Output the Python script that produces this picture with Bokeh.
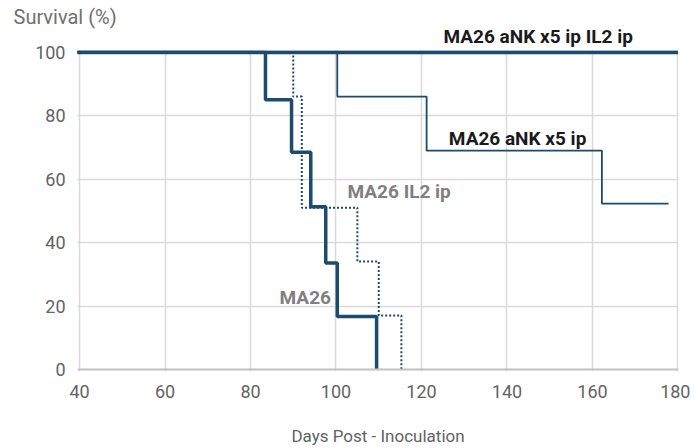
from bokeh.plotting import figure
from bokeh.models import Range1d, Label, Span, FixedTicker, Title
from bokeh.embed import file_html
from bokeh.resources import INLINE

# ---- data ----
days_il2_ank = [0, 180]
surv_il2_ank = [100, 100]

days_ank = [0, 100.3, 121.2, 162.2, 177.8]
surv_ank = [100, 86, 69, 52.3, 52.3]

days_il2 = [0, 90, 92, 105, 110, 115.3]
surv_il2 = [100, 86, 51, 34, 17, 0]

days_ma26 = [0, 83.5, 89.6, 94.1, 97.6, 100.3, 109.5]
surv_ma26 = [100, 85, 68.5, 51.3, 33.6, 16.7, 0]

x_ticks = [40, 60, 80, 100, 120, 140, 160, 180]
y_ticks = [0, 20, 40, 60, 80, 100]

NAVY = "#1c4b6e"
FONT = "Roboto"
GRAY = "#636363"

p = figure(width=690, height=448, output_backend="svg", toolbar_location=None,
           x_range=Range1d(39.53, 180.12), y_range=Range1d(-0.63, 100.53),
           min_border_left=77, min_border_right=12, min_border_top=50, min_border_bottom=76)
p.outline_line_color = None
p.background_fill_color = "white"

# y-axis caption (outermost) and top-series label (nearest the frame) as titles
p.title.text = "Survival (%)"
p.title.align = "left"
p.title.offset = -64
p.title.standoff = -16
p.title.text_font = FONT
p.title.text_font_size = "20px"
p.title.text_font_style = "normal"
p.title.text_color = "#707070"
p.add_layout(Title(text="MA26 aNK x5 ip IL2 ip", align="left", offset=366, standoff=5,
                   text_font=FONT, text_font_size="19px", text_font_style="bold",
                   text_color="#1a1a1a"), "above")

p.xaxis.ticker = FixedTicker(ticks=x_ticks)
p.yaxis.ticker = FixedTicker(ticks=y_ticks)
for ax in (p.xaxis, p.yaxis):
    ax.axis_line_color = None
    ax.major_tick_line_color = None
    ax.minor_tick_line_color = None
    ax.major_label_text_font = FONT
    ax.major_label_text_font_size = "18px"
    ax.major_label_text_color = GRAY
p.xaxis.major_label_standoff = 7
p.yaxis.major_label_standoff = 6
p.xaxis.axis_label = "Days Post - Inoculation"
p.xaxis.axis_label_text_font = FONT
p.xaxis.axis_label_text_font_style = "normal"
p.xaxis.axis_label_text_font_size = "17px"
p.xaxis.axis_label_text_color = GRAY
p.xaxis.axis_label_standoff = 25

p.xgrid.ticker = FixedTicker(ticks=x_ticks)
p.ygrid.ticker = FixedTicker(ticks=y_ticks)
p.grid.grid_line_color = "#d9d9d9"
p.grid.grid_line_width = 1.5

p.add_layout(Span(location=0, dimension="width", line_color="#c4c4c4", line_width=2))

p.step(days_ank, surv_ank, mode="after", line_color=NAVY, line_width=1.8)
p.step(days_il2, surv_il2, mode="after", line_color=NAVY, line_width=2, line_dash="2 2")
p.step(days_ma26, surv_ma26, mode="after", line_color=NAVY, line_width=3.5)
p.line(days_il2_ank, surv_il2_ank, line_color=NAVY, line_width=4)

def lab(x, y, text, color):
    p.add_layout(Label(x=x, y=y, text=text,
                       text_font=FONT, text_font_size="19px", text_font_style="bold",
                       text_color=color, text_align="left", text_baseline="middle"))

lab(126.4, 72.9, "MA26 aNK x5 ip", "#1a1a1a")
lab(102.7, 56.0, "MA26 IL2 ip", "#808080")
lab(86.8, 22.6, "MA26", "#808080")

open("out.html", "w").write(file_html(p, INLINE))
